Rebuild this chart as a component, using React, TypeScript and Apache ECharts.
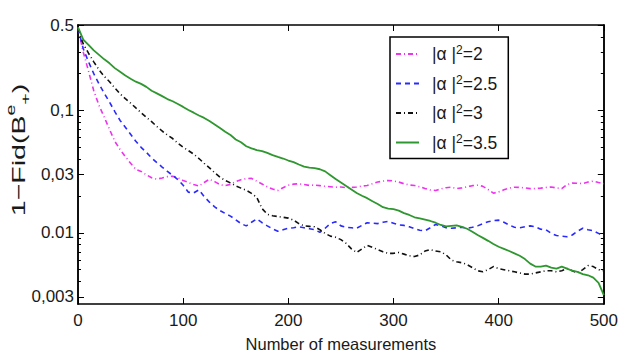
import React, { useEffect, useRef } from 'react';
import * as echarts from 'echarts';

// Number of measurements (x positions shared by every curve)
const measurements = [
  0, 5, 10, 15, 20, 25, 30, 35, 40, 45,
  50, 55, 60, 65, 70, 75, 80, 85, 90, 95,
  100, 105, 110, 115, 120, 125, 130, 135, 140, 145,
  150, 155, 160, 165, 170, 175, 180, 185, 190, 195,
  200, 205, 210, 215, 220, 225, 230, 235, 240, 245,
  250, 255, 260, 265, 270, 275, 280, 285, 290, 295,
  300, 305, 310, 315, 320, 325, 330, 335, 340, 345,
  350, 355, 360, 365, 370, 375, 380, 385, 390, 395,
  400, 405, 410, 415, 420, 425, 430, 435, 440, 445,
  450, 455, 460, 465, 470, 475, 480, 485, 490, 495,
  500,
];

// 1 - Fid for |alpha|^2 = 2
const infidelityA2 = [
  0.47, 0.30, 0.21, 0.145, 0.11, 0.088, 0.07, 0.056, 0.048, 0.042,
  0.037, 0.033, 0.0318, 0.0298, 0.0282, 0.0275, 0.0281, 0.0288, 0.029, 0.0282,
  0.0268, 0.0258, 0.0248, 0.0241, 0.0258, 0.0274, 0.0262, 0.0248, 0.0243, 0.0249,
  0.0262, 0.0272, 0.0277, 0.0279, 0.0264, 0.0251, 0.0238, 0.0228, 0.0222, 0.0234,
  0.0245, 0.025, 0.0252, 0.0248, 0.0244, 0.0246, 0.0243, 0.024, 0.0238, 0.0236,
  0.0237, 0.0234, 0.0235, 0.0237, 0.0241, 0.0244, 0.0252, 0.026, 0.0265, 0.0268,
  0.0266, 0.026, 0.0252, 0.0246, 0.0244, 0.0238, 0.023, 0.0224, 0.0222, 0.0228,
  0.0234, 0.0236, 0.023, 0.0233, 0.0238, 0.0243, 0.0245, 0.024, 0.0226, 0.0211,
  0.0216, 0.0225, 0.0232, 0.0236, 0.0235, 0.0233, 0.023, 0.023, 0.0232, 0.0235,
  0.0237, 0.0233, 0.023, 0.0248, 0.0255, 0.0254, 0.0253, 0.026, 0.0265, 0.0258,
  0.0252,
];

// 1 - Fid for |alpha|^2 = 2.5
const infidelityA25 = [
  0.47, 0.32, 0.25, 0.2, 0.165, 0.138, 0.117, 0.098, 0.083, 0.073,
  0.064, 0.056, 0.05, 0.0455, 0.041, 0.0375, 0.0345, 0.0318, 0.0295, 0.0272,
  0.0245, 0.0215, 0.0212, 0.0225, 0.0198, 0.0178, 0.0163, 0.0152, 0.0144, 0.0137,
  0.0128, 0.0119, 0.0114, 0.0122, 0.013, 0.0121, 0.0114, 0.0108, 0.0103, 0.0106,
  0.0109, 0.011, 0.0112, 0.011, 0.0108, 0.0106, 0.0101, 0.0109, 0.0119, 0.0123,
  0.0114, 0.0111, 0.011, 0.0109, 0.0115, 0.0121, 0.012, 0.0119, 0.0122, 0.0124,
  0.012, 0.0116, 0.0115, 0.0112, 0.0108, 0.0105, 0.0104, 0.011, 0.0117, 0.0114,
  0.011, 0.0109, 0.011, 0.0111, 0.0109, 0.0111, 0.0114, 0.0119, 0.0123, 0.0126,
  0.0127, 0.0122, 0.0116, 0.0111, 0.011, 0.0112, 0.0114, 0.0112, 0.0107, 0.0106,
  0.0099, 0.0095, 0.0094, 0.0093, 0.0096, 0.0103, 0.0109, 0.0106, 0.0104, 0.0099,
  0.0094,
];

// 1 - Fid for |alpha|^2 = 3
const infidelityA3 = [
  0.47, 0.35, 0.294, 0.25, 0.215, 0.19, 0.172, 0.153, 0.137, 0.125,
  0.115, 0.105, 0.096, 0.088, 0.081, 0.074, 0.068, 0.063, 0.059, 0.054,
  0.05, 0.047, 0.044, 0.0405, 0.037, 0.034, 0.031, 0.0285, 0.0268, 0.0256,
  0.0242, 0.0232, 0.0223, 0.021, 0.0195, 0.0158, 0.0142, 0.0138, 0.0136, 0.0134,
  0.0132, 0.0127, 0.0119, 0.0114, 0.0113, 0.0112, 0.0106, 0.0099, 0.0094, 0.0092,
  0.0088, 0.0082, 0.0074, 0.0069, 0.0074, 0.0079, 0.0076, 0.0073, 0.007, 0.0068,
  0.0068, 0.0069, 0.0067, 0.0065, 0.0064, 0.0066, 0.0071, 0.0073, 0.0071, 0.007,
  0.0066, 0.006, 0.0058, 0.0057, 0.0055, 0.0052, 0.0049, 0.0048, 0.005, 0.0053,
  0.0051, 0.005, 0.0049, 0.0048, 0.0047, 0.0046, 0.0046, 0.0047, 0.0048, 0.0049,
  0.0049, 0.0048, 0.0049, 0.0051, 0.0049, 0.0047, 0.005, 0.0054, 0.0053, 0.005,
  0.0049,
];

// 1 - Fid for |alpha|^2 = 3.5
const infidelityA35 = [
  0.48, 0.38, 0.344, 0.31, 0.285, 0.262, 0.243, 0.222, 0.207, 0.193,
  0.182, 0.172, 0.165, 0.156, 0.145, 0.138, 0.131, 0.124, 0.119, 0.113,
  0.107, 0.101, 0.096, 0.091, 0.087, 0.082, 0.077, 0.072, 0.067, 0.063,
  0.058, 0.055, 0.051, 0.049, 0.0475, 0.0465, 0.045, 0.0432, 0.0418, 0.0405,
  0.039, 0.0378, 0.0362, 0.0348, 0.0341, 0.0338, 0.0331, 0.0318, 0.0296, 0.0275,
  0.0258, 0.0242, 0.0226, 0.0212, 0.0201, 0.0192, 0.0181, 0.0172, 0.0162, 0.0158,
  0.0156, 0.0152, 0.0145, 0.014, 0.0134, 0.0131, 0.0128, 0.0125, 0.0121, 0.0116,
  0.0113, 0.0114, 0.0115, 0.0112, 0.0108, 0.0102, 0.0096, 0.0091, 0.0086, 0.0081,
  0.0077, 0.0074, 0.0071, 0.0068, 0.0065, 0.0061, 0.0056, 0.0053, 0.0053, 0.0054,
  0.0052, 0.0051, 0.0053, 0.0051, 0.0049, 0.0048, 0.0046, 0.0045, 0.0043, 0.0039,
  0.0031,
];

const seriesNames = ['|α |²=2', '|α |²=2.5', '|α |²=3', '|α |²=3.5'];

// Log-axis ticks and their printed labels
const yTickValues = [0.003, 0.01, 0.03, 0.1, 0.5];
const yTickLabels = ['0,003', '0.01', '0,03', '0,1', '0.5'];
const yMinorTicks = [
  0.004, 0.005, 0.006, 0.007, 0.008, 0.009,
  0.02, 0.04, 0.05, 0.06, 0.07, 0.08, 0.09,
  0.2, 0.3, 0.4,
];
const xTickLabels = ['0', '100', '200', '300', '400', '500'];

const Y_MIN = 0.00262;
const Y_MAX = 0.5;
const FONT = '"Liberation Sans", Arial, Helvetica, sans-serif';
const INK = '#1a1a1a';

function pairs(values: number[]) {
  return measurements.map((n, i) => [n, values[i]]);
}

function yLabel(v: number) {
  const i = yTickValues.findIndex((t) => Math.abs(Math.log10(t) - Math.log10(v)) < 0.01);
  return i >= 0 ? yTickLabels[i] : '';
}

// Legend names carry a raised "2"; render it through a rich-text style
function legendText(name: string) {
  return name.replace('²', '{s|2}');
}

export default function App() {
  const ref = useRef<HTMLDivElement>(null);

  useEffect(() => {
    if (!ref.current) return;
    const chart = echarts.init(ref.current, undefined, { renderer: 'svg' });

    const axisLine = { show: true, onZero: false, lineStyle: { color: '#000', width: 1.5 } };
    const logBase = {
      type: 'log' as const,
      logBase: 10,
      min: Y_MIN,
      max: Y_MAX,
      splitLine: { show: false },
      axisLine,
    };
    const majorTick = { show: true, inside: true, length: 6, customValues: yTickValues, lineStyle: { color: '#000', width: 1 } };
    const minorTick = { show: true, inside: true, length: 3, customValues: yMinorTicks, lineStyle: { color: '#000', width: 1 } };

    chart.setOption({
      animation: false,
      backgroundColor: '#fff',
      grid: { left: 78, right: 13, top: 25, bottom: 48, containLabel: false },
      xAxis: [
        {
          type: 'value',
          min: 0,
          max: 500,
          interval: 100,
          position: 'bottom',
          axisLine,
          axisTick: { inside: true, length: 6, lineStyle: { color: '#000', width: 1 } },
          axisLabel: {
            fontSize: 17,
            color: INK,
            fontFamily: FONT,
            margin: 8,
            formatter: (v: number) => xTickLabels[Math.round(v / 100)] ?? '',
          },
          splitLine: { show: false },
          name: 'Number of measurements',
          nameLocation: 'middle',
          nameGap: 31,
          nameTextStyle: { fontSize: 16.5, color: INK, fontFamily: FONT },
        },
        {
          type: 'value',
          min: 0,
          max: 500,
          interval: 100,
          position: 'top',
          axisLine,
          axisTick: { inside: true, length: 6, lineStyle: { color: '#000', width: 1 } },
          axisLabel: { show: false },
          splitLine: { show: false },
        },
      ],
      yAxis: [
        {
          ...logBase,
          position: 'left',
          axisTick: majorTick,
          axisLabel: {
            customValues: yTickValues,
            formatter: (v: number) => yLabel(v),
            fontSize: 17,
            color: INK,
            fontFamily: FONT,
            margin: 4,
          },
        },
        { ...logBase, position: 'left', axisTick: minorTick, axisLabel: { show: false } },
        { ...logBase, position: 'right', axisTick: majorTick, axisLabel: { show: false } },
        { ...logBase, position: 'right', axisTick: minorTick, axisLabel: { show: false } },
      ],
      legend: {
        orient: 'vertical',
        left: 390,
        top: 37,
        backgroundColor: '#fff',
        borderColor: '#000',
        borderWidth: 1.5,
        borderRadius: 0,
        padding: [7, 11, 6, 5],
        itemWidth: 23,
        itemHeight: 12,
        itemGap: 9.5,
        itemStyle: { opacity: 0 },
        formatter: legendText,
        textStyle: {
          fontSize: 17.5,
          color: INK,
          fontFamily: FONT,
          lineHeight: 20,
          padding: [0, 0, 0, 8],
          rich: {
            s: { fontSize: 12, fontFamily: FONT, color: INK, verticalAlign: 'top', lineHeight: 20, padding: [0, 0, 6, 0] },
          },
        },
        data: seriesNames,
      },
      graphic: [
        {
          type: 'text',
          x: 18,
          y: 150,
          rotation: Math.PI / 2,
          scaleX: 1.5,
          style: {
            text: '1−Fid(B{sup|e}{sub|+})',
            fontSize: 19,
            fontFamily: FONT,
            fill: INK,
            align: 'center',
            verticalAlign: 'middle',
            lineHeight: 28,
            rich: {
              sup: { fontSize: 13, fontFamily: FONT, fill: INK, verticalAlign: 'top', lineHeight: 28 },
              sub: { fontSize: 13, fontFamily: FONT, fill: INK, verticalAlign: 'bottom', lineHeight: 28 },
            },
          },
        },
      ],
      series: [
        {
          type: 'line',
          name: seriesNames[0],
          data: pairs(infidelityA2),
          symbol: 'none',
          lineStyle: { color: '#ee33ee', width: 1.6, type: [5, 3, 1, 3] },
          itemStyle: { color: '#ee33ee' },
          z: 2,
        },
        {
          type: 'line',
          name: seriesNames[1],
          data: pairs(infidelityA25),
          symbol: 'none',
          lineStyle: { color: '#2a2aff', width: 1.6, type: [5, 4] },
          itemStyle: { color: '#2a2aff' },
          z: 3,
        },
        {
          type: 'line',
          name: seriesNames[2],
          data: pairs(infidelityA3),
          symbol: 'none',
          lineStyle: { color: '#111111', width: 1.6, type: [5, 3, 1, 3] },
          itemStyle: { color: '#111111' },
          z: 4,
        },
        {
          type: 'line',
          name: seriesNames[3],
          data: pairs(infidelityA35),
          symbol: 'none',
          lineStyle: { color: '#2f972f', width: 1.8, type: 'solid' },
          itemStyle: { color: '#2f972f' },
          z: 5,
        },
      ],
    });

    return () => chart.dispose();
  }, []);

  return (
    <div
      ref={ref}
      style={{ position: 'fixed', left: 0, top: 0, width: 621, height: 357, background: '#fff' }}
    />
  );
}
